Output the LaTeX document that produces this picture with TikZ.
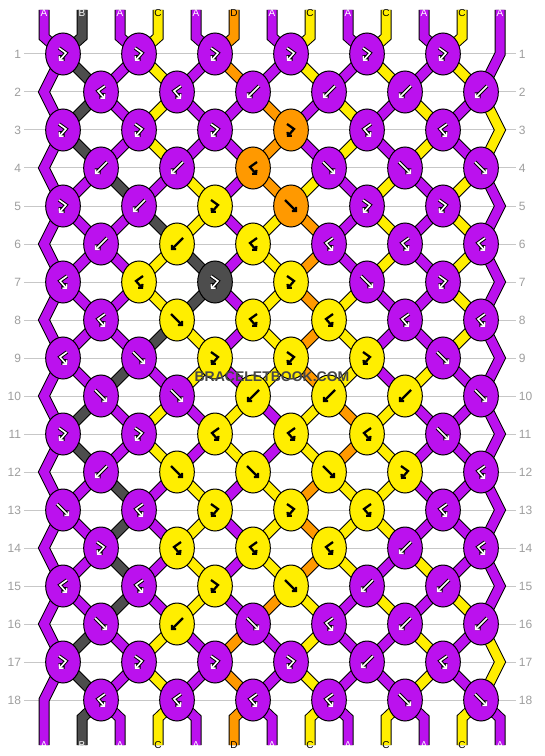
\documentclass[tikz,border=0pt]{standalone}
\usepackage{fontspec}
\setmainfont{Liberation Sans}
\usetikzlibrary{shapes.geometric,arrows.meta}

\definecolor{colA}{HTML}{BB11EE}
\definecolor{colB}{HTML}{4D4D4D}
\definecolor{colC}{HTML}{FFEE00}
\definecolor{colD}{HTML}{FF9900}

\pgfdeclarelayer{paper}
\pgfdeclarelayer{rows}
\pgfdeclarelayer{strands}
\pgfsetlayers{paper,rows,strands,main}

\tikzset{
  knot/.style={ellipse, draw=black, line width=0.75pt, fill=#1, minimum width=26pt, minimum height=31.5pt, inner sep=0pt},
  strand/.style={double=#1, double distance=6.75pt, line width=0.75pt},
  tip/.style={-{Straight Barb[length=2pt,width=4.4pt]}},
  lightink/.style={tip, draw=white, line width=1.2pt, preaction={draw=black, line width=2.7pt, tip}},
  darkink/.style={tip, draw=black, line width=1.7pt},
  inkA/.style=lightink, inkB/.style=lightink,
  inkC/.style=darkink, inkD/.style=darkink,
  glyph F/.code={\def\gA{-6,-6}\def\gB{0,0}\def\gC{6,6}},
  glyph B/.code={\def\gA{6,-6}\def\gB{0,0}\def\gC{-6,6}},
  glyph FB/.code={\def\gA{-4,-6}\def\gB{3,-1}\def\gC{-4,7}},
  glyph BF/.code={\def\gA{4,-6}\def\gB{-3,-1}\def\gC{4,7}},
  rownum/.style={text=black!38, font=\fontsize{9}{9}\selectfont, inner sep=2pt},
  rowline/.style={draw=black!22, line width=0.75pt},
  endlabel/.style={font=\fontsize{7.5}{7.5}\selectfont, inner sep=0pt},
  lblA/.style={endlabel, text=white}, lblB/.style={endlabel, text=white},
  lblC/.style={endlabel, text=black}, lblD/.style={endlabel, text=black}
}

\begin{document}
\begin{tikzpicture}[x=0.75pt, y=-0.75pt]
  \useasboundingbox (0,0) rectangle (544,756);
  \begin{pgfonlayer}{paper}
    \fill[white] (0,0) rectangle (544,756);
  \end{pgfonlayer}

  \foreach \r in {1,...,18} {
    \node[rownum, anchor=east] (ln\r) at (24,16+38*\r) {\r};
    \node[rownum, anchor=west] (rn\r) at (516,16+38*\r) {\r};
    \begin{pgfonlayer}{rows}
      \draw[rowline] (ln\r) -- (rn\r);
    \end{pgfonlayer}
  }

  \foreach \r/\row in {
      1/{FB/A,FB/A,FB/A,FB/A,FB/A,FB/A},
      2/{BF/A,BF/A,B/A,B/A,B/A,B/A},
      3/{FB/A,FB/A,FB/A,FB/D,BF/A,BF/A},
      4/{B/A,B/A,BF/D,F/A,F/A,F/A},
      5/{FB/A,B/A,FB/C,F/D,FB/A,FB/A},
      6/{B/A,B/C,BF/C,BF/A,BF/A,BF/A},
      7/{BF/A,BF/C,FB/B,FB/C,F/A,FB/A},
      8/{BF/A,F/C,BF/C,BF/C,BF/A,BF/A},
      9/{BF/A,F/A,FB/C,FB/C,FB/C,F/A},
      10/{F/A,F/A,B/C,B/C,B/C,F/A},
      11/{FB/A,FB/A,BF/C,BF/C,BF/C,F/A},
      12/{B/A,F/C,F/C,F/C,FB/C,BF/A},
      13/{F/A,BF/A,FB/C,FB/C,BF/C,BF/A},
      14/{FB/A,BF/C,BF/C,BF/C,B/A,BF/A},
      15/{BF/A,BF/A,FB/C,F/C,B/A,B/A},
      16/{F/A,B/C,F/A,BF/A,B/A,B/A},
      17/{FB/A,FB/A,FB/A,FB/A,B/A,BF/A},
      18/{BF/A,BF/A,BF/A,BF/A,F/A,F/A}} {
    \foreach \t/\col [count=\k from 0] in \row {
      \pgfmathtruncatemacro\kx{mod(\r,2)==1 ? 63+76*\k : 101+76*\k}
      \node[knot=col\col] (k\r-\k) at (\kx,16+38*\r) {};
      \tikzset{glyph \t}
      \draw[ink\col] ([shift={(\gA)}]k\r-\k.center) -- ([shift={(\gB)}]k\r-\k.center) -- ([shift={(\gC)}]k\r-\k.center);
    }
  }

  \foreach \col [count=\i from 0] in {A,B,A,C,A,D,A,C,A,C,A,C,A} {
    \pgfmathtruncatemacro\sx{44+38*\i}
    \coordinate (top\i) at (\sx,10);
    \coordinate (bot\i) at (\sx,745);
    \coordinate (tb\i) at (\sx,37);
    \coordinate (bb\i) at (\sx,718);
    \node[lbl\col] (lt\i) at (\sx,13) {\col};
    \node[lbl\col] (lb\i) at (\sx,745) {\col};
  }
  \coordinate (tb12) at (500,54);
  \coordinate (bb0) at (44,700);
  \foreach \r in {2,4,...,16} \coordinate (el\r) at (44,16+38*\r);
  \foreach \r in {3,5,...,17} \coordinate (er\r) at (500,16+38*\r);

  \node[font=\bfseries\fontsize{10.5}{10.5}\selectfont, text=black!72] (mark) at (272,377) {BRACELETBOOK.COM};

  \begin{pgfonlayer}{strands}
  \foreach \r/\st in {
      0/{A,B,A,C,A,D,A,C,A,C,A,C,A},
      1/{A,B,A,C,A,D,A,C,A,C,A,C,A},
      2/{A,B,A,C,A,A,D,A,C,A,C,A,C},
      3/{A,B,A,C,A,A,D,A,C,A,C,A,C},
      4/{A,A,B,A,C,A,D,C,A,C,A,C,A},
      5/{A,A,A,B,C,A,C,D,A,C,A,C,A},
      6/{A,A,A,C,B,A,C,D,A,C,A,C,A},
      7/{A,A,A,C,B,A,C,D,C,A,A,C,A},
      8/{A,A,A,B,C,A,C,D,C,A,A,C,A},
      9/{A,A,B,A,C,A,C,D,C,A,C,A,A},
      10/{A,B,A,C,A,C,A,C,D,C,A,A,A},
      11/{A,B,A,C,A,C,A,C,D,C,A,A,A},
      12/{A,A,B,A,C,A,C,D,C,C,A,A,A},
      13/{A,A,B,A,C,A,C,D,C,C,A,A,A},
      14/{A,A,B,A,C,A,C,D,C,A,C,A,A},
      15/{A,A,B,A,C,A,D,C,A,C,A,C,A},
      16/{A,B,A,C,A,D,A,C,A,A,C,A,C},
      17/{A,B,A,C,A,D,A,C,A,A,C,A,C},
      18/{A,B,A,C,A,D,A,C,A,C,A,C,A}} {
    \foreach \col [count=\i from 0] in \st {
      \pgfmathtruncatemacro\odd{mod(\r,2)}
      \pgfmathtruncatemacro\rn{\r+1}
      \pgfmathtruncatemacro\rnn{\r+2}
      \pgfmathtruncatemacro\kh{floor(\i/2)}
      \pgfmathtruncatemacro\kl{floor((\i-1)/2)}
      \ifnum\r=0
        \ifnum\i<12 \draw[strand=col\col] (top\i) -- (tb\i) -- (k1-\kh.center);
        \else \draw[strand=col\col] (top12) -- (tb12) -- (k2-5.center); \fi
      \else\ifnum\odd=1
        \ifnum\i=0
          \ifnum\r<17 \draw[strand=col\col] (k\r-0.center) -- (el\rn) -- (k\rnn-0.center);
          \else \draw[strand=col\col] (k17-0.center) -- (bb0) -- (bot0); \fi
        \else\ifnum\i<12 \draw[strand=col\col] (k\r-\kh.center) -- (k\rn-\kl.center); \fi\fi
      \else
        \ifnum\i=12
          \ifnum\r<18 \draw[strand=col\col] (k\r-5.center) -- (er\rn) -- (k\rnn-5.center);
          \else \draw[strand=col\col] (k18-5.center) -- (bb12) -- (bot12); \fi
        \else\ifnum\i>0
          \ifnum\r<18 \draw[strand=col\col] (k\r-\kl.center) -- (k\rn-\kh.center);
          \else \draw[strand=col\col] (k18-\kl.center) -- (bb\i) -- (bot\i); \fi
        \fi\fi
      \fi\fi
    }
  }
  \end{pgfonlayer}
\end{tikzpicture}
\end{document}
